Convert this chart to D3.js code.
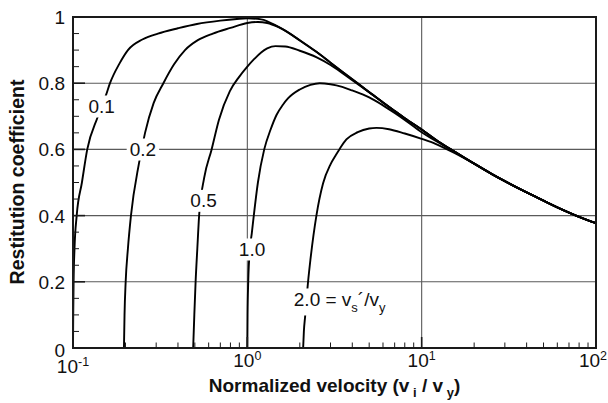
<!DOCTYPE html>
<html><head><meta charset="utf-8">
<script src="https://cdn.jsdelivr.net/npm/d3@7"></script>
<style>
html,body{margin:0;padding:0;background:#fff;}
svg{display:block;font-family:"Liberation Sans",Arial,Helvetica,sans-serif;}
</style></head><body>
<svg id="chart" width="608" height="403"></svg>
<script>
// ---------- data ----------
// common high-velocity branch shared by all curves
const envX = [1.2, 1.5, 2, 2.5, 3, 4, 5, 6, 7, 8, 10, 12, 15, 20, 25, 30, 40, 50, 60, 70, 80, 100];
const envY = [0.993, 0.971, 0.930, 0.894, 0.862, 0.812, 0.773, 0.742, 0.716, 0.694, 0.660, 0.630, 0.597, 0.557, 0.527, 0.504, 0.470, 0.445, 0.425, 0.409, 0.396, 0.377];

// vs'/vy = 0.1
const c01X = [0.1, 0.1003, 0.1008, 0.102, 0.105, 0.1125, 0.1207, 0.1384, 0.1546, 0.163, 0.185, 0.2066, 0.25, 0.307, 0.4, 0.514, 0.7, 0.871, 1.0];
const c01Y = [0, 0.1, 0.2, 0.3, 0.4, 0.5, 0.6, 0.697, 0.764, 0.8, 0.86, 0.9, 0.932, 0.95, 0.966, 0.979, 0.989, 0.994, 0.996];
// vs'/vy = 0.2
const c02X = [0.196, 0.1975, 0.2005, 0.2065, 0.215, 0.239, 0.259, 0.29, 0.33, 0.38, 0.439, 0.52, 0.634, 0.8, 1.0, 1.15, 1.3, 1.5, 1.8, 2.0];
const c02Y = [0, 0.1, 0.2, 0.3, 0.4, 0.558, 0.65, 0.74, 0.8, 0.857, 0.9, 0.93, 0.95, 0.967, 0.982, 0.985, 0.982, 0.970, 0.946, 0.929];
// vs'/vy = 0.5
const c05X = [0.489, 0.4965, 0.505, 0.5165, 0.529, 0.565, 0.624, 0.687, 0.794, 0.9, 1.0, 1.1, 1.2, 1.3, 1.45, 1.65, 2.0, 2.5, 3.0, 3.5, 4.0];
const c05Y = [0, 0.1, 0.2, 0.3, 0.4, 0.513, 0.6, 0.689, 0.776, 0.82, 0.85, 0.874, 0.893, 0.905, 0.912, 0.911, 0.898, 0.878, 0.855, 0.831, 0.809];
// vs'/vy = 1.0
const c10X = [1.0, 1.003, 1.012, 1.035, 1.061, 1.089, 1.15, 1.25, 1.36, 1.47, 1.6, 1.71, 2.0, 2.3, 2.6, 3.0, 3.5, 4.0, 5.0, 6.0, 7.0, 8.0, 10, 12];
const c10Y = [0, 0.1, 0.2, 0.3, 0.347, 0.4, 0.5, 0.6, 0.66, 0.704, 0.735, 0.754, 0.781, 0.795, 0.80, 0.797, 0.789, 0.778, 0.757, 0.733, 0.710, 0.689, 0.652, 0.626];
// vs'/vy = 2.0
const c20X = [2.09, 2.11, 2.145, 2.23, 2.30, 2.49, 2.72, 3.0, 3.22, 3.4, 3.7, 4.3, 5.0, 5.5, 6.5, 8, 10, 12, 14, 16];
const c20Y = [0, 0.05, 0.095, 0.2, 0.266, 0.4, 0.4975, 0.555, 0.583, 0.603, 0.630, 0.652, 0.663, 0.665, 0.661, 0.648, 0.632, 0.617, 0.600, 0.585];

const curveNames = ["0.1", "0.2", "0.5", "1.0", "2.0"];
const curveXs = [c01X, c02X, c05X, c10X, c20X];
const curveYs = [c01Y, c02Y, c05Y, c10Y, c20Y];

// tick labels
const yTickValues = [0, 0.2, 0.4, 0.6, 0.8, 1];
const yTickLabels = ["0", "0.2", "0.4", "0.6", "0.8", "1"];
const xTickValues = [0.1, 1, 10, 100];
const xTickExp = ["-1", "0", "1", "2"];
const yGrid = [0.2, 0.4, 0.6, 0.8];
const xGrid = [1, 10];

// ---------- layout ----------
const plot = {left: 73, right: 596, top: 17, bottom: 348};
const labelPos = [ // data coords of label (x centre, baseline y)
  [0.1461, 0.710], [0.2518, 0.580], [0.561, 0.425], [1.064, 0.278]
];
const label20Pos = [1.847, 0.127];

const svg = d3.select("#chart");
const x = d3.scaleLog().domain([0.1, 100]).range([plot.left, plot.right]);
const y = d3.scaleLinear().domain([0, 1]).range([plot.bottom, plot.top]);

// grid
svg.append("g").selectAll("line").data(yGrid).join("line")
  .attr("x1", plot.left).attr("x2", plot.right)
  .attr("y1", d => y(d)).attr("y2", d => y(d))
  .attr("stroke", "#5a5a5a").attr("stroke-width", 1.1);
svg.append("g").selectAll("line").data(xGrid).join("line")
  .attr("y1", plot.top).attr("y2", plot.bottom)
  .attr("x1", d => x(d)).attr("x2", d => x(d))
  .attr("stroke", "#5a5a5a").attr("stroke-width", 1.1);

// curves
const line = d3.line().x(d => x(d[0])).y(d => y(d[1])).curve(d3.curveMonotoneX);
curveXs.forEach((xs, k) => {
  const head = xs.map((v, i) => [v, curveYs[k][i]]);
  const last = xs[xs.length - 1];
  const tail = envX.map((v, i) => [v, envY[i]]).filter(d => d[0] > last * 1.05);
  svg.append("path").datum(head.concat(tail))
    .attr("d", line).attr("fill", "none")
    .attr("stroke", "#000").attr("stroke-width", 1.9)
    .attr("stroke-linejoin", "round");
});

// curve labels with white background
function addBg(g, padX, padY) {
  const t = g.select("text").node();
  const b = t.getBBox();
  g.insert("rect", "text")
    .attr("x", b.x - padX).attr("y", b.y - padY)
    .attr("width", b.width + 2 * padX).attr("height", b.height + 2 * padY)
    .attr("fill", "#fff");
}
curveNames.slice(0, 4).forEach((name, i) => {
  const g = svg.append("g");
  g.append("text").attr("x", x(labelPos[i][0])).attr("y", y(labelPos[i][1]))
    .attr("text-anchor", "middle").attr("font-size", 19).attr("fill", "#111")
    .text(name);
  addBg(g, 3, 0.5);
});
{
  const g = svg.append("g");
  const t = g.append("text").attr("x", x(label20Pos[0])).attr("y", y(label20Pos[1]))
    .attr("font-size", 19).attr("fill", "#111");
  t.append("tspan").text(curveNames[4] + " = v");
  t.append("tspan").attr("font-size", 13).attr("dy", 6).text("s");
  t.append("tspan").attr("dy", -6).text("\u00B4/v");
  t.append("tspan").attr("font-size", 13).attr("dy", 6).text("y");
  addBg(g, 3, 0.5);
}

// frame
svg.append("rect").attr("x", plot.left).attr("y", plot.top)
  .attr("width", plot.right - plot.left).attr("height", plot.bottom - plot.top)
  .attr("fill", "none").attr("stroke", "#1a1a1a").attr("stroke-width", 2);

// y ticks
const yMinor = d3.range(1, 20).map(i => i * 0.05).filter(v => Math.abs(v * 5 - Math.round(v * 5)) > 1e-6);
svg.append("g").selectAll("line").data(yMinor).join("line")
  .attr("x1", plot.left).attr("x2", plot.left + 6)
  .attr("y1", d => y(d)).attr("y2", d => y(d))
  .attr("stroke", "#1a1a1a").attr("stroke-width", 1);
svg.append("g").selectAll("line").data(yTickValues).join("line")
  .attr("x1", plot.left).attr("x2", plot.left + 12)
  .attr("y1", d => y(d)).attr("y2", d => y(d))
  .attr("stroke", "#1a1a1a").attr("stroke-width", 1.6);

// x ticks
const xMinor = [];
[0.1, 1, 10].forEach(dec => { for (let m = 2; m <= 9; m++) xMinor.push(dec * m); });
svg.append("g").selectAll("line").data(xMinor).join("line")
  .attr("x1", d => x(d)).attr("x2", d => x(d))
  .attr("y1", plot.bottom).attr("y2", plot.bottom - 5.5)
  .attr("stroke", "#1a1a1a").attr("stroke-width", 1);
svg.append("g").selectAll("line").data(xTickValues).join("line")
  .attr("x1", d => x(d)).attr("x2", d => x(d))
  .attr("y1", plot.bottom).attr("y2", plot.bottom - 11)
  .attr("stroke", "#1a1a1a").attr("stroke-width", 1.6);

// y tick labels
svg.append("g").selectAll("text").data(yTickValues).join("text")
  .attr("x", plot.left - 8)
  .attr("y", (d, i) => y(d) + 7 + (d === 0 ? 1.5 : 0))
  .attr("text-anchor", "end").attr("font-size", 19).attr("fill", "#111")
  .text((d, i) => yTickLabels[i]);

// x tick labels (10^n)
xTickValues.forEach((v, i) => {
  const last = i === xTickValues.length - 1;
  const t = svg.append("text")
    .attr("x", last ? 607 : x(v))
    .attr("y", i === 0 ? 372.5 : 366.5)
    .attr("text-anchor", last ? "end" : "middle").attr("font-size", 19).attr("fill", "#111");
  t.append("tspan").text("10");
  t.append("tspan").attr("font-size", 12.5).attr("dy", -6.5).text(xTickExp[i]);
});

// axis titles
{
  const t = svg.append("text").attr("x", (plot.left + plot.right) / 2).attr("y", 392)
    .attr("text-anchor", "middle").attr("font-size", 19).attr("font-weight", "bold").attr("fill", "#111");
  t.append("tspan").text("Normalized velocity (v");
  t.append("tspan").attr("font-size", 13).attr("dy", 5).text(" i");
  t.append("tspan").attr("dy", -5).text(" / v");
  t.append("tspan").attr("font-size", 13).attr("dy", 5).text(" y");
  t.append("tspan").attr("dy", -5).text(")");
}
svg.append("text").attr("transform", "translate(24,182) rotate(-90)")
  .attr("text-anchor", "middle").attr("font-size", 19.5).attr("font-weight", "bold").attr("fill", "#111")
  .text("Restitution coefficient");
</script>
</body></html>
